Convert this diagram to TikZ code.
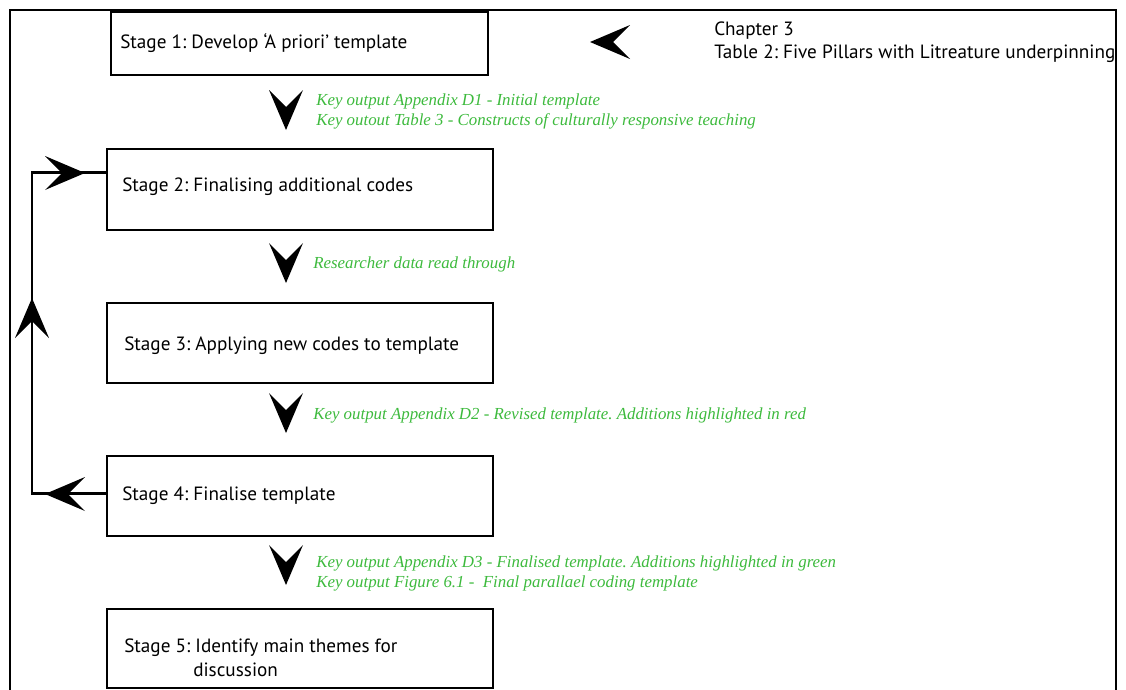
\documentclass[tikz,border=0pt]{standalone}
\usepackage{fontspec}
\setmainfont{Liberation Serif}
\newfontfamily\boxfont{PT Sans}
\newfontfamily\greenfont{Liberation Serif}
\usetikzlibrary{calc}
\definecolor{keygreen}{HTML}{3DBA3D}
\newcommand\pxu{0.75pt}
\frenchspacing
\begin{document}
\begin{tikzpicture}[x=0.75pt,y=-0.75pt,
  stagebox/.style={draw, line width=1.1pt, inner sep=0pt},
  stagetext/.style={font=\boxfont\fontsize{14.4}{17}\selectfont, anchor=base west, inner sep=0pt},
  keytext/.style={font=\greenfont\itshape\fontsize{12.65}{15}\selectfont, text=keygreen, anchor=base west, inner sep=0pt},
  heavy/.style={line width=2.2pt},
  pics/head/.style={code={\fill (0,0) -- (-40,17) -- (-23,0) -- (-40,-17) -- cycle;}}]
\useasboundingbox (0,0) rectangle (1126,689);
% outer frame
\draw[heavy] (10,720) -- (10,10) -- (1116,10) -- (1116,720);
% boxes
\node[stagebox, minimum width={377*\pxu}, minimum height={63*\pxu}] (s1) at (299.5,43.5) {};
\node[stagebox, minimum width={386*\pxu}, minimum height={81*\pxu}] (s2) at (300,189.5) {};
\node[stagebox, minimum width={386*\pxu}, minimum height={80*\pxu}] (s3) at (300,343) {};
\node[stagebox, minimum width={386*\pxu}, minimum height={80*\pxu}] (s4) at (300,496) {};
\node[stagebox, minimum width={386*\pxu}, minimum height={79*\pxu}] (s5) at (300,648.5) {};
% box texts
\node[stagetext] (t1) at (120,48) {Stage 1: Develop ‘A priori’ template};
\node[stagetext] (t2) at (122,191) {Stage 2: Finalising additional codes};
\node[stagetext] (t3) at (124,350) {Stage 3: Applying new codes to template};
\node[stagetext] (t4) at (122,500) {Stage 4: Finalise template};
\node[stagetext] (t5) at (124,652) {Stage 5: Identify main themes for};
\node[stagetext] (t5b) at (193,676) {discussion};
% chapter note
\node[stagetext] (c1) at (714,35) {Chapter 3};
\node[stagetext] (c2) at (714,58) {Table 2: Five Pillars with Litreature underpinning};
\pic[rotate=180] at (590,42) {head};
% green notes
\node[keytext] (k1a) at (316,105) {Key output Appendix D1 - Initial template};
\node[keytext] (k1b) at (316,125) {Key outout Table 3 - Constructs of culturally responsive teaching};
\node[keytext] (k2) at (313,268) {Researcher data read through};
\node[keytext] (k3) at (313,419) {Key output Appendix D2 - Revised template. Additions highlighted in red};
\node[keytext] (k4a) at (316,567) {Key output Appendix D3 - Finalised template. Additions highlighted in green};
\node[keytext] (k4b) at (316,587) {Key output Figure 6.1 - \ Final parallael coding template};
% down arrowheads
\pic[rotate=-90] at (286,130) {head};
\pic[rotate=-90] at (286,283) {head};
\pic[rotate=-90] at (286,433) {head};
\pic[rotate=-90] at (286,585) {head};
% feedback loop
\coordinate (lx) at (32,0);
\coordinate (s2in) at ($(s2.north west)+(0,24)$);
\coordinate (s4out) at ($(s4.north west)+(0,38)$);
\draw[heavy, line join=miter] (s4out) -- (s4out -| lx) -- (s2in -| lx) -- (s2in);
\pic[rotate=180] at (45,494) {head};
\pic[rotate=90] at (32,298) {head};
\pic at (85,173) {head};
\end{tikzpicture}
\end{document}
